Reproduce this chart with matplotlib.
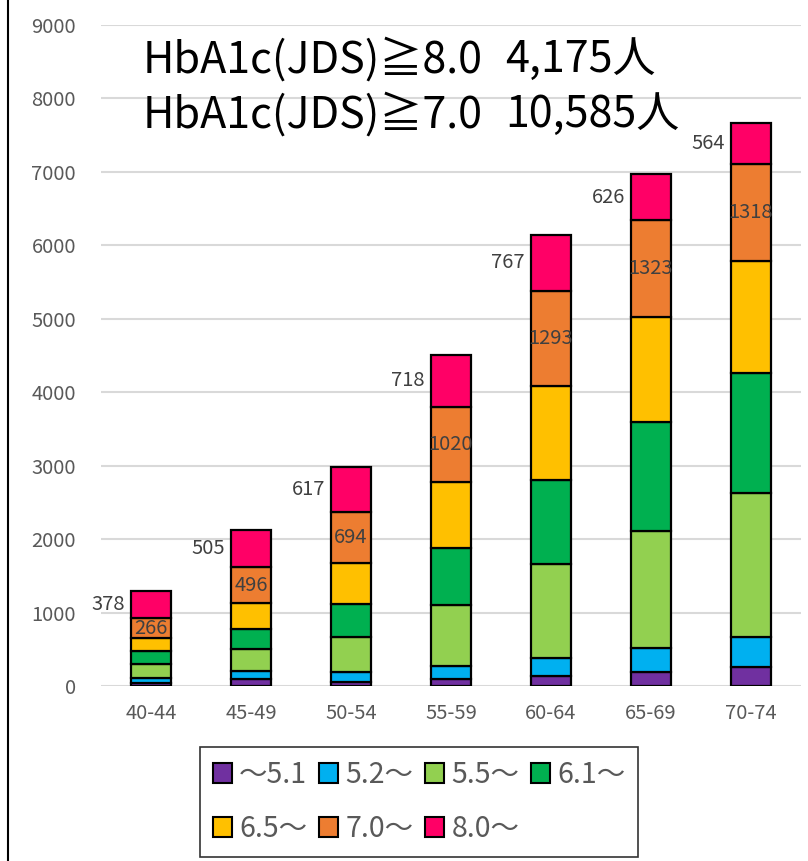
import matplotlib
matplotlib.use("Agg")
import matplotlib.pyplot as plt
from matplotlib.patches import Patch
from matplotlib.lines import Line2D
import numpy as np

categories = ["40-44", "45-49", "50-54", "55-59", "60-64", "65-69", "70-74"]
series_names = ["〜5.1", "5.2〜", "5.5〜", "6.1〜", "6.5〜", "7.0〜", "8.0〜"]
s_51 = [40, 100, 60, 95, 131, 192, 257]
s_52 = [70, 100, 125, 177, 248, 328, 409]
s_55 = [185, 304, 486, 831, 1277, 1590, 1959]
s_61 = [185, 276, 445, 772, 1151, 1489, 1630]
s_65 = [175, 345, 554, 900, 1280, 1421, 1530]
s_70 = [266, 496, 694, 1020, 1293, 1323, 1318]
s_80 = [378, 505, 617, 718, 767, 626, 564]
title_lines = ["HbA1c(JDS)≧8.0", "HbA1c(JDS)≧7.0"]
title_counts = ["4,175人", "10,585人"]
yticks = [0, 1000, 2000, 3000, 4000, 5000, 6000, 7000, 8000, 9000]

colors = ["#7030A0", "#00B0F0", "#92D050", "#00B050", "#FFC000", "#ED7D31", "#FF0066"]
series = [s_51, s_52, s_55, s_61, s_65, s_70, s_80]

fam = ["Noto Sans CJK JP", "DejaVu Sans"]
plt.rcParams["font.family"] = fam

fig = plt.figure(figsize=(8.08, 8.61), dpi=100)
ax = fig.add_axes([101/808, 1-686/861, 700/808, (686-25)/861])

x = np.arange(len(categories))
bottom = np.zeros(len(categories))
handles = []
for vals, col, name in zip(series, colors, series_names):
    v = np.array(vals, dtype=float)
    ax.bar(x, v, 0.4, bottom=bottom, color=col, edgecolor="black", linewidth=1.6, zorder=3)
    handles.append(Patch(facecolor=col, edgecolor="black", linewidth=1.5, label=name))
    bottom += v

# labels
top = np.array(bottom)
pink = np.array(s_80, dtype=float)
orange = np.array(s_70, dtype=float)
for i in range(len(categories)):
    ymid_o = top[i] - pink[i] - orange[i] / 2
    ax.text(x[i], ymid_o, str(s_70[i]), ha="center", va="center", fontsize=14.5, color="#404040", zorder=5)
    ymid_p = top[i] - pink[i] / 2
    ax.text(x[i] - 0.26, ymid_p, str(s_80[i]), ha="right", va="center", fontsize=14.5, color="#404040", zorder=5)

ax.set_xlim(-0.5, len(categories) - 0.5)
ax.set_ylim(0, 9000)
ax.set_yticks(yticks)
ax.set_yticklabels([str(t) for t in yticks])
ax.set_xticks(x)
ax.set_xticklabels(categories)
ax.tick_params(axis="both", length=0, labelsize=14.5, labelcolor="#595959")
ax.tick_params(axis="y", pad=18)
ax.tick_params(axis="x", pad=12)
ax.yaxis.grid(True, color="#D9D9D9", linewidth=1.5)
ax.set_axisbelow(True)
for sp in ax.spines.values():
    sp.set_visible(False)

# big annotation text
for k, (t1, t2) in enumerate(zip(title_lines, title_counts)):
    yy = 1 - (60 + 55 * k) / 861
    fig.text(143/808, yy, t1, fontsize=31, color="black", va="center", ha="left")
    fig.text(505/808, yy, t2, fontsize=31, color="black", va="center", ha="left")

# legend, row-major order for 4 columns
order = [0, 4, 1, 5, 2, 6, 3]
leg = fig.legend([handles[i] for i in order], [series_names[i] for i in order],
                 ncol=4, loc="upper left", bbox_to_anchor=(200/808, 1-747/861),
                 borderaxespad=0,
                 fontsize=20.5, frameon=True, fancybox=False, edgecolor="black",
                 handlelength=0.68, handleheight=0.68, handletextpad=0.25,
                 columnspacing=0.4, labelspacing=0.85, borderpad=0.45)
leg.get_frame().set_linewidth(1.2)
for t in leg.get_texts():
    t.set_color("#595959")

fig.add_artist(Line2D([8/808, 8/808], [0, 1], transform=fig.transFigure, color="black", linewidth=1.5))

fig.savefig("out.png", dpi=100)
